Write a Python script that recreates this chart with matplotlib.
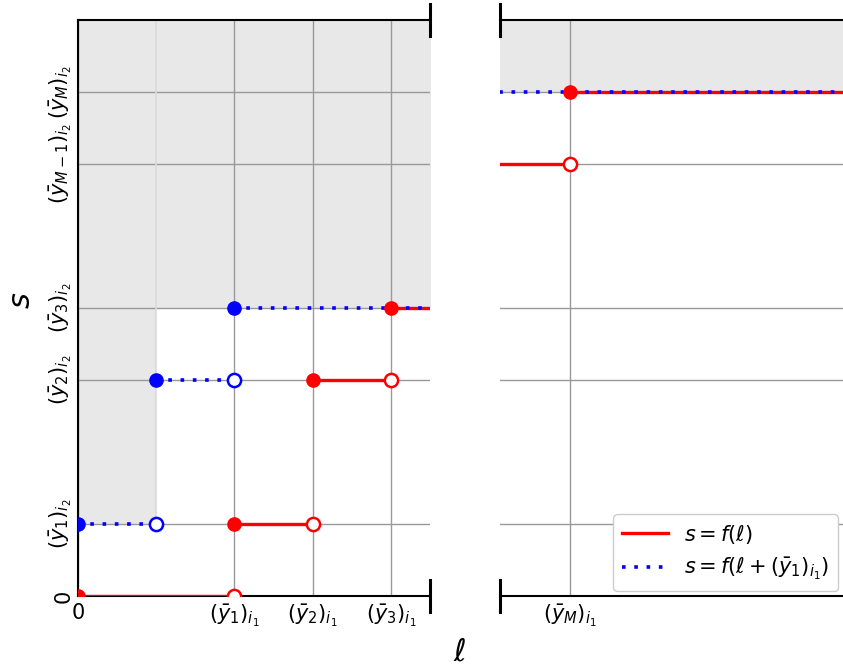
import matplotlib.pyplot as plt
import numpy as np

# tick positions / labels
x_ticks_left = [0, 2, 3, 4]
x_labels_left = ['0', r'$(\bar{y}_1)_{i_1}$', r'$(\bar{y}_2)_{i_1}$', r'$(\bar{y}_3)_{i_1}$']
x_M = 10
y_ticks = [0, 1, 3, 4, 6, 7]
y_labels = ['0', r'$(\bar{y}_1)_{i_2}$', r'$(\bar{y}_2)_{i_2}$', r'$(\bar{y}_3)_{i_2}$',
            r'$(\bar{y}_{M-1})_{i_2}$', r'$(\bar{y}_M)_{i_2}$']

# step segments: (start, end, value), closed at start, open at end
red_left = [(0, 2, 0), (2, 3, 1), (3, 4, 3), (4, 6, 4)]
blue_left = [(0, 1, 1), (1, 2, 3), (2, 6, 4)]
red_right = [(5, 10, 6), (10, 16, 7)]
blue_right = [(5, 16, 7)]

# shaded region (x start, x end, lower y)
shade_left = [(0, 1, 1), (1, 6, 4)]
shade_right = [(5, 16, 7)]

xlim_left = (0, 4.5)
xlim_right = (x_M - 0.9, x_M + 3.5)
ylim = (0, 8)

DOT = (0, (1, 2.4))

fig = plt.figure(figsize=(8.43, 6.68), dpi=100)
ax1 = fig.add_axes([78/843, 1-596/668, (430-78)/843, (596-20)/668])
ax2 = fig.add_axes([500/843, 1-596/668, (843-500)/843, (596-20)/668])


def draw(ax, red, blue, shade):
    for x0, x1, y0 in shade:
        ax.fill_between([x0, x1], [y0, y0], [ylim[1], ylim[1]], color='#e8e8e8', lw=0, zorder=0)
    for x0, x1, y in red:
        ax.plot([x0, x1], [y, y], color='red', lw=2.4, zorder=3, solid_capstyle='butt')
    for x0, x1, y in blue:
        ax.plot([x0, x1], [y, y], color='blue', lw=2.6, ls=DOT, zorder=4)
    for segs, c in ((blue, 'blue'), (red, 'red')):
        for x0, x1, y in segs:
            ax.plot(x0, y, 'o', color=c, ms=9.5, zorder=5)
            ax.plot(x1, y, 'o', mfc='white', mec=c, mew=1.8, ms=9.5, zorder=5)


draw(ax1, red_left, blue_left, shade_left)
draw(ax2, red_right, blue_right, shade_right)

# faint edge where the two shaded pieces meet
ax1.plot([1, 1], [1, ylim[1]], color='#dadada', lw=1.2, zorder=1)

for ax in (ax1, ax2):
    ax.set_ylim(*ylim)
    ax.set_yticks(y_ticks)
    ax.grid(True, color='#999999', lw=1, zorder=1)
    ax.set_axisbelow(True)
    ax.spines['right'].set_visible(False)
    ax.tick_params(length=0, labelsize=15, pad=5)
    for s in ('top', 'bottom', 'left'):
        ax.spines[s].set_linewidth(1.5)

ax1.set_xlim(*xlim_left)
ax1.set_xticks(x_ticks_left)
ax1.set_xticklabels(x_labels_left)
ax1.set_yticklabels(y_labels, rotation=90, va='center')
ax1.tick_params(axis='y', pad=3)

ax2.set_xlim(*xlim_right)
ax2.set_xticks([x_M])
ax2.set_xticklabels([r'$(\bar{y}_M)_{i_1}$'])
ax2.set_yticklabels([])
ax2.spines['left'].set_visible(False)

# break markers
kw = dict(color='black', lw=2.2, clip_on=False, zorder=10)
for ax, xe in ((ax1, 1.0), (ax2, 0.0)):
    for ye in (0.0, 1.0):
        ax.plot([xe, xe], [ye - 0.027, ye + 0.027], transform=ax.transAxes, **kw)

fig.text(22/843, 1-300/668, r'$s$', fontsize=22, rotation=90, ha='center', va='center')
fig.text(460/843, 1-652/668, r'$\ell$', fontsize=22, ha='center', va='center')

ax2.plot([], [], color='red', lw=2.4, label=r'$s = f(\ell)$')
ax2.plot([], [], color='blue', lw=2.6, ls=DOT, label=r'$s = f(\ell + (\bar{y}_1)_{i_1})$')
ax2.legend(loc='lower right', fontsize=15, framealpha=1, borderaxespad=0.25,
           handlelength=2.2)

fig.savefig('out.png', dpi=100)
